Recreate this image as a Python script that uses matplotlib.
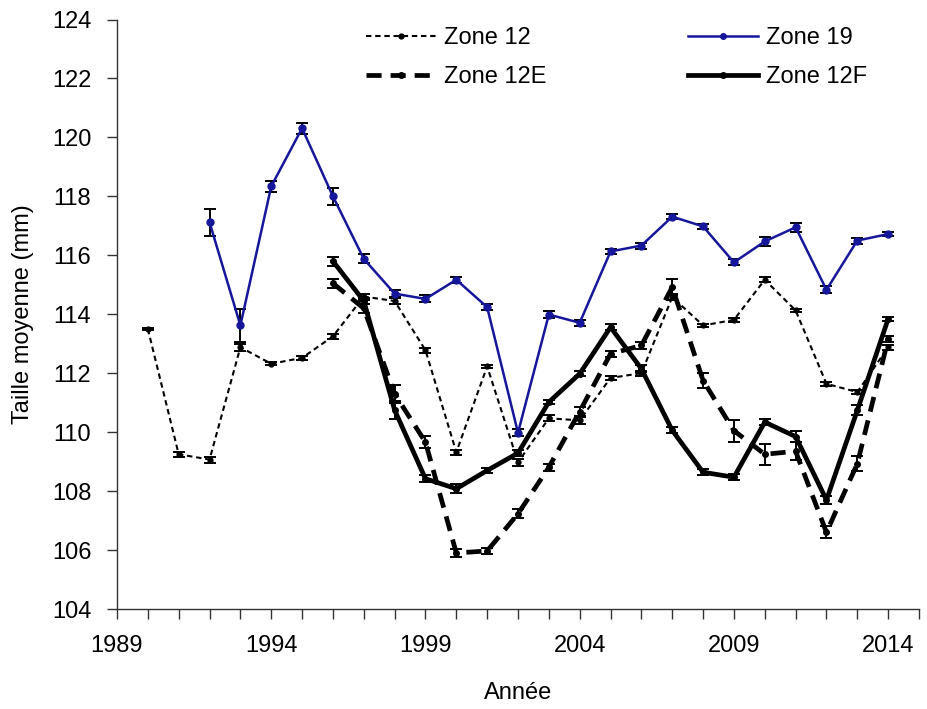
import matplotlib
matplotlib.use("Agg")
import matplotlib.pyplot as plt
from matplotlib.ticker import MultipleLocator, FixedLocator
from matplotlib.lines import Line2D

plt.rcParams['font.family'] = ['Liberation Sans', 'DejaVu Sans']

# ---- data ----
years_12 = list(range(1990, 2015))
zone12 = [113.5, 109.25, 109.07, 112.88, 112.32, 112.52, 113.25, 114.6, 114.45, 112.78,
          109.32, 112.23, 108.98, 110.47, 110.4, 111.84, 112.0, 114.58, 113.62, 113.81,
          115.17, 114.13, 111.64, 111.36, 112.88]
zone12_err = [0.05, 0.08, 0.1, 0.12, 0.05, 0.06, 0.08, 0.1, 0.1, 0.08,
              0.08, 0.06, 0.12, 0.1, 0.12, 0.06, 0.08, 0.1, 0.06, 0.06,
              0.08, 0.06, 0.06, 0.08, 0.08]

years_19 = list(range(1992, 2015))
zone19 = [117.12, 113.62, 118.34, 120.31, 118.0, 115.88, 114.7, 114.52, 115.17, 114.24,
          109.98, 113.99, 113.71, 116.13, 116.33, 117.31, 116.98, 115.76, 116.47, 116.95,
          114.83, 116.5, 116.72]
zone19_err = [0.45, 0.55, 0.18, 0.18, 0.3, 0.15, 0.12, 0.12, 0.1, 0.1,
              0.12, 0.12, 0.1, 0.1, 0.1, 0.08, 0.08, 0.1, 0.15, 0.15,
              0.12, 0.1, 0.08]

years_e = list(range(1996, 2015))
zone12E = [115.05, 114.2, 111.3, 109.66, 105.9, 105.97, 107.23, 108.81, 110.7, 112.66,
           112.94, 114.92, 111.75, 110.05, 109.25, 109.35, 106.6, 108.93, 113.15]
zone12E_err = [0.15, 0.15, 0.3, 0.2, 0.15, 0.1, 0.15, 0.12, 0.15, 0.1,
               0.12, 0.28, 0.25, 0.37, 0.35, 0.3, 0.2, 0.25, 0.1]

years_f = list(range(1996, 2015))
zone12F = [115.8, 114.45, 110.75, 108.42, 108.08, 108.7, 109.29, 111.02, 111.98, 113.56,
           112.15, 110.06, 108.64, 108.47, 110.34, 109.85, 107.7, 110.74, 113.84]
zone12F_err = [0.15, 0.1, 0.3, 0.12, 0.15, 0.08, 0.1, 0.08, 0.08, 0.1,
               0.12, 0.1, 0.1, 0.1, 0.1, 0.2, 0.15, 0.17, 0.08]

leg_labels = ["Zone 12", "Zone 12E", "Zone 19", "Zone 12F"]
xtick_labels = [1989, 1994, 1999, 2004, 2009, 2014]

# ---- figure ----
fig = plt.figure(figsize=(9.27, 7.09), dpi=100)
top_px, bot_px = 19.5, 609.0
ax = fig.add_axes([117 / 927, 1 - bot_px / 709, (919 - 117) / 927, (bot_px - top_px) / 709])

FS = 17
blue = '#16169a'
ekw = dict(ecolor='black', elinewidth=1.4, capsize=4, capthick=1.4)

ax.errorbar(years_12, zone12, yerr=zone12_err, color='black', lw=1.5,
            linestyle=(0, (2.6, 1.8)), marker='o', markersize=3.5, **ekw)
ax.errorbar(years_19, zone19, yerr=zone19_err, color=blue, lw=1.8,
            marker='o', markersize=5, **ekw)
ax.errorbar(years_e, zone12E, yerr=zone12E_err, color='black', lw=3.4,
            linestyle=(0, (3.2, 1.9)), marker='o', markersize=4, **ekw)
ax.errorbar(years_f, zone12F, yerr=zone12F_err, color='black', lw=3.4,
            marker='o', markersize=4, **ekw)

ax.set_xlim(1989, 2015)
ax.set_ylim(104, 124)
ax.xaxis.set_major_locator(FixedLocator(list(range(1989, 2016))))
ax.set_xticklabels([str(y) if y in xtick_labels else '' for y in range(1989, 2016)])
ax.yaxis.set_major_locator(MultipleLocator(2))

for s in ['top', 'right']:
    ax.spines[s].set_visible(False)
for s in ['left', 'bottom']:
    ax.spines[s].set_linewidth(1.0)
    ax.spines[s].set_color('#333333')

ax.tick_params(axis='both', direction='out', length=7.5, width=1.0, color='#333333',
               labelsize=FS, pad=11)

ax.set_ylabel("Taille moyenne (mm)", fontsize=FS, labelpad=13)
ax.set_xlabel("Année", fontsize=FS, labelpad=18)

leg_handles = [
    Line2D([], [], color='black', lw=1.5, linestyle=(0, (2.6, 1.8)), marker='o', markersize=3.5),
    Line2D([], [], color='black', lw=3.4, linestyle=(0, (3.2, 1.9)), marker='o', markersize=4),
    Line2D([], [], color=blue, lw=1.8, marker='o', markersize=4),
    Line2D([], [], color='black', lw=3.4, marker='o', markersize=4),
]
fig.legend(leg_handles, leg_labels, ncol=2, loc='upper left',
           bbox_to_anchor=(366 / 927, 1 - 27 / 709), bbox_transform=fig.transFigure,
           frameon=False, fontsize=FS, handlelength=2.95, handletextpad=0.35,
           columnspacing=6.0, labelspacing=0.72, borderpad=0, borderaxespad=0)

fig.savefig("out.png", dpi=100)
